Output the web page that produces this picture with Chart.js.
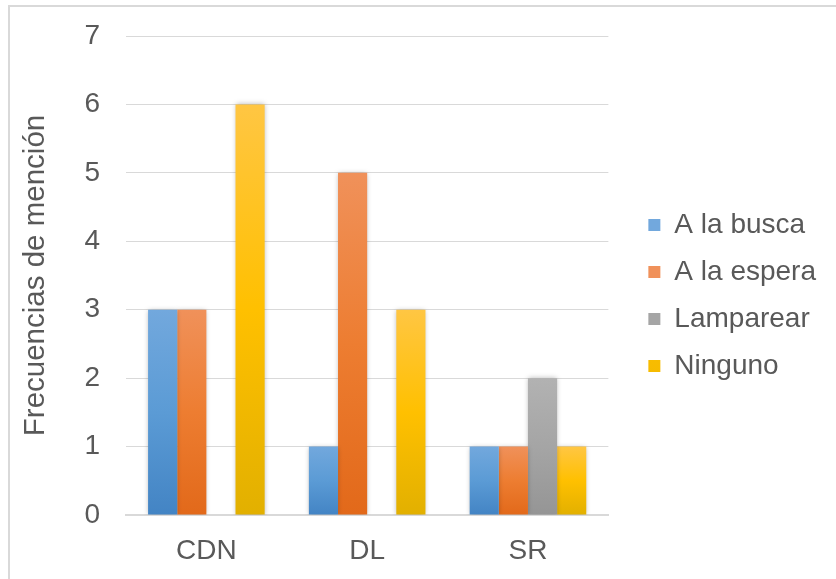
<!DOCTYPE html>
<html>
<head>
<meta charset="utf-8">
<script src="https://cdn.jsdelivr.net/npm/chart.js@4/dist/chart.umd.min.js"></script>
<style>
  html, body { margin: 0; padding: 0; background: #ffffff; }
  #frame {
    position: absolute; left: 8px; top: 5px; right: 0; bottom: 0;
    border-left: 2px solid #d9d9d9; border-top: 2px solid #d9d9d9;
  }
  #wrap { position: absolute; left: 0; top: 0; width: 836px; height: 579px; }
  canvas { display: block; }
</style>
</head>
<body>
<div id="frame"></div>
<div id="wrap"><canvas id="chart" width="836" height="579"></canvas></div>
<script>
// Categories and series
const categories = ['CDN', 'DL', 'SR'];
const aLaBusca   = [3, 1, 1];
const aLaEspera  = [3, 5, 1];
const lamparear  = [0, 0, 2];
const ninguno    = [6, 3, 1];
const yTicks     = [0, 1, 2, 3, 4, 5, 6, 7];

const seriesNames = ['A la busca', 'A la espera', 'Lamparear', 'Ninguno'];
const seriesData  = [aLaBusca, aLaEspera, lamparear, ninguno];

// Base colour plus light top / dark bottom for each bar's vertical gradient
const palette = [
  { base: '#5b9bd5', top: '#72a8dd', bottom: '#4384c4' },
  { base: '#ed7d31', top: '#f0915a', bottom: '#e2691a' },
  { base: '#a5a5a5', top: '#b2b2b2', bottom: '#959595' },
  { base: '#ffc000', top: '#ffc643', bottom: '#e2b000' }
];

const textColor = '#595959';
const fontFamily = '"Liberation Sans", Arial, sans-serif';

function barGradient(i) {
  return function (ctx) {
    const c = palette[i];
    if (ctx.type !== 'data') return c.base;
    const y = ctx.chart.scales.y;
    if (!y) return c.base;
    const top = y.getPixelForValue(ctx.raw);
    const bot = y.getPixelForValue(0);
    if (!isFinite(top) || !isFinite(bot) || top === bot) return c.base;
    const g = ctx.chart.ctx.createLinearGradient(0, top, 0, bot);
    g.addColorStop(0, c.top);
    g.addColorStop(0.5, c.base);
    g.addColorStop(1, c.bottom);
    return g;
  };
}

// Soft shadow behind the bars
const barShadow = {
  id: 'barShadow',
  beforeDatasetsDraw(chart) {
    const ctx = chart.ctx;
    ctx.save();
    ctx.shadowColor = 'rgba(0,0,0,0.28)';
    ctx.shadowBlur = 5;
  },
  afterDatasetsDraw(chart) {
    chart.ctx.restore();
  }
};

new Chart(document.getElementById('chart'), {
  type: 'bar',
  data: {
    labels: categories,
    datasets: seriesNames.map((name, i) => ({
      label: name,
      data: seriesData[i],
      backgroundColor: barGradient(i),
      borderWidth: 0,
      categoryPercentage: 0.725,
      barPercentage: 1
    }))
  },
  plugins: [barShadow],
  options: {
    responsive: false,
    animation: false,
    devicePixelRatio: 1,
    layout: { padding: { top: 12, left: 18, right: 10, bottom: 0 } },
    plugins: {
      legend: {
        position: 'right',
        align: 'center',
        maxWidth: 240,
        labels: {
          color: textColor,
          font: { family: fontFamily, size: 28 },
          boxWidth: 12,
          boxHeight: 12,
          padding: 19
        }
      },
      tooltip: { enabled: false }
    },
    scales: {
      x: {
        grid: { display: false },
        border: { display: true, color: '#d9d9d9', width: 2 },
        ticks: {
          color: textColor,
          font: { family: fontFamily, size: 28 },
          padding: 11.2,
          maxRotation: 0,
          minRotation: 0
        }
      },
      y: {
        min: 0,
        max: 7,
        afterBuildTicks(scale) { scale.ticks = yTicks.map(v => ({ value: v })); },
        grid: { color: '#d9d9d9', lineWidth: 1, drawTicks: false },
        border: { display: false },
        ticks: {
          color: textColor,
          font: { family: fontFamily, size: 28, lineHeight: 20 / 28 },
          padding: 26
        },
        title: {
          display: true,
          text: 'Frecuencias de mención',
          color: textColor,
          font: { family: fontFamily, size: 29.5 },
          padding: { top: 0, bottom: 5 }
        }
      },
      // empty spacer between plot and legend
      gap: {
        type: 'linear',
        position: 'right',
        display: true,
        grid: { display: false, drawTicks: false },
        border: { display: false },
        ticks: { display: false },
        afterFit(scale) { scale.width = 21; }
      }
    }
  }
});
</script>
</body>
</html>
